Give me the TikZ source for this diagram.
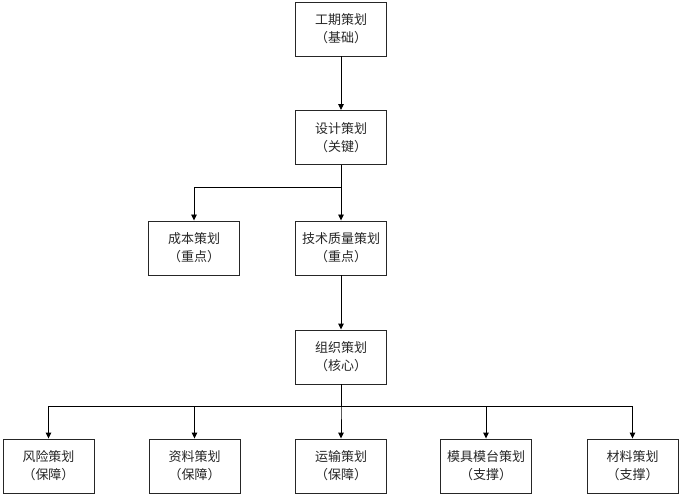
\documentclass[tikz,border=0pt]{standalone}
\usepackage{fontspec}
\newfontfamily\cjk{Noto Sans CJK SC}
\usetikzlibrary{arrows.meta}
\begin{document}
\begin{tikzpicture}[x=1pt,y=-1pt,
  box/.style={draw=black!85,line width=0.9pt,fill=white,minimum width=91pt,minimum height=54pt,inner sep=0pt,align=center,font=\cjk\fontsize{13}{18}\selectfont,text=black!85},
  conn/.style={draw=black,line width=0.9pt,-{Triangle[length=6pt,width=5.5pt]}}]
\path[use as bounding box] (0,0) rectangle (680,497);
\node[box] (gq) at (341,29) {工期策划\\（基础）};
\node[box] (sj) at (341,137.5) {设计策划\\（关键）};
\node[box] (cb) at (194,248) {成本策划\\（重点）};
\node[box] (js) at (341,248) {技术质量策划\\（重点）};
\node[box] (zz) at (341,357) {组织策划\\（核心）};
\node[box] (fx) at (48.5,466) {风险策划\\（保障）};
\node[box] (zl) at (194.5,466) {资料策划\\（保障）};
\node[box] (ys) at (341,466) {运输策划\\（保障）};
\node[box] (mj) at (486,466) {模具模台策划\\（支撑）};
\node[box] (cl) at (632.5,466) {材料策划\\（支撑）};
\draw[conn] (gq) -- (sj);
\draw[conn] (sj) -- (js);
\draw[conn] (sj.south) |- (cb.north |- 0,187) -- (cb.north);
\draw[conn] (js) -- (zz);
\foreach \n in {fx,zl,ys,mj,cl}{
  \draw[conn] (zz.south) |- (\n.north |- 0,406) -- (\n.north);
}
\end{tikzpicture}
\end{document}
